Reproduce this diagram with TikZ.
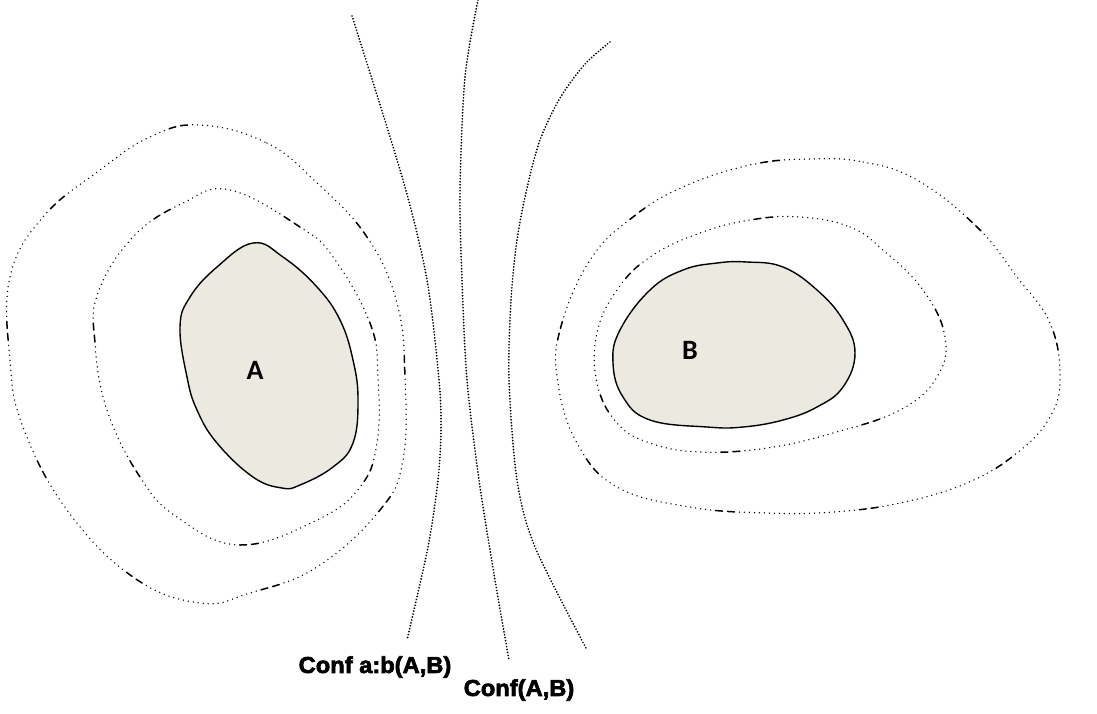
\documentclass[tikz,border=0pt]{standalone}
\usepackage{fontspec}
\newfontfamily\conffont[FakeBold=2.8,FakeStretch=1.03]{Liberation Sans Bold}
\newfontfamily\blobfont{Carlito Bold}
\definecolor{blobfill}{RGB}{236,234,224}
\tikzset{
  blobline/.style={draw=black, line width=1.4pt, fill=blobfill},
  contour/.style={line width=1.5pt, line cap=round,
    dash pattern=on 0pt off 5pt on 0pt off 5pt on 0pt off 5pt on 0pt off 5pt on 0pt off 5pt on 0pt off 5pt on 0pt off 5pt on 0pt off 5pt on 0pt off 5pt on 0pt off 5pt on 0pt off 5pt on 0pt off 5pt on 0pt off 5pt on 0pt off 5pt on 0pt off 5pt on 0pt off 5pt on 0pt off 5pt on 0pt off 5pt on 0pt off 5pt on 0pt off 5pt on 0pt off 5pt on 0pt off 5pt on 0pt off 5pt on 0pt off 5pt on 7pt off 5pt on 7pt off 5pt},
  confline/.style={line width=1.9pt, line cap=round, dash pattern=on 0pt off 3pt},
  conflabel/.style={font=\conffont\fontsize{23}{26}\selectfont, inner sep=0pt},
  bloblabel/.style={font=\blobfont\fontsize{28}{30}\selectfont, inner sep=0pt}
}
\begin{document}
\begin{tikzpicture}[x=1pt,y=-1pt]
\useasboundingbox (0,0) rectangle (1097,713);
% outer contour A
\draw[contour] plot[smooth cycle, tension=0.7] coordinates {
 (200,125) (267,143) (317,183) (367,237) (397,303) (405,377) (403,460) (380,510)
 (317,567) (250,593) (200,603) (133,577) (67,510) (23,427) (10,360) (10,277)
 (43,217) (100,170) (150,137)};
% inner contour A
\draw[contour] plot[smooth cycle, tension=0.7] coordinates {
 (230,190) (300,227) (333,257) (370,323) (378,377) (377,443) (360,487) (317,520)
 (240,545) (177,517) (140,477) (107,410) (95,343) (98,293) (133,237) (183,203)};
% blob A
\path[blobline] plot[smooth cycle, tension=0.7] coordinates {
 (253,243) (283,257) (317,287) (340,320) (353,360) (358,400) (353,443) (333,467)
 (300,485) (282,488) (253,477) (217,443) (197,410) (187,377) (180,327) (190,297)
 (217,267)};
\node[bloblabel] (A) at (255,370) {A};
% outer contour B
\draw[contour] plot[smooth cycle, tension=0.7] coordinates {
 (810,159) (863,162) (917,180) (977,227) (1017,277) (1050,323) (1060,377) (1050,417)
 (1017,453) (967,483) (900,503) (833,512) (767,513) (690,507) (617,487) (577,443)
 (558,383) (560,330) (590,260) (633,217) (683,187) (750,165)};
% inner contour B
\draw[contour] plot[smooth cycle, tension=0.7] coordinates {
 (800,217) (850,227) (883,250) (923,290) (945,337) (937,377) (900,410) (833,433)
 (767,448) (700,452) (650,443) (617,423) (597,383) (597,333) (617,290) (650,257)
 (700,233) (750,220)};
% blob B
\path[blobline] plot[smooth cycle, tension=0.7] coordinates {
 (747,262) (783,267) (817,290) (843,320) (855,353) (843,387) (817,407) (783,420)
 (743,427) (707,427) (650,420) (623,397) (613,363) (620,330) (650,290) (683,270)
 (717,263)};
\node[bloblabel] (B) at (690,350) {B};
% separation lines
\draw[confline] plot[smooth] coordinates {
 (352,16) (403,180) (427,280) (439,380) (441,430) (438,480) (428,547) (407,640)};
\draw[confline] plot[smooth] coordinates {
 (478,0) (465,77) (460,190) (462,280) (467,380) (479,480) (495,580) (509,660)};
\draw[confline] plot[smooth] coordinates {
 (610,42) (585,64) (560,98) (540,140) (527,188) (517,240) (511,300) (509,380)
 (517,480) (535,547) (587,650)};
\node[conflabel] (lab1) at (375,667) {Conf a:b(A,B)};
\node[conflabel] (lab2) at (519,690) {Conf(A,B)};
\end{tikzpicture}
\end{document}
